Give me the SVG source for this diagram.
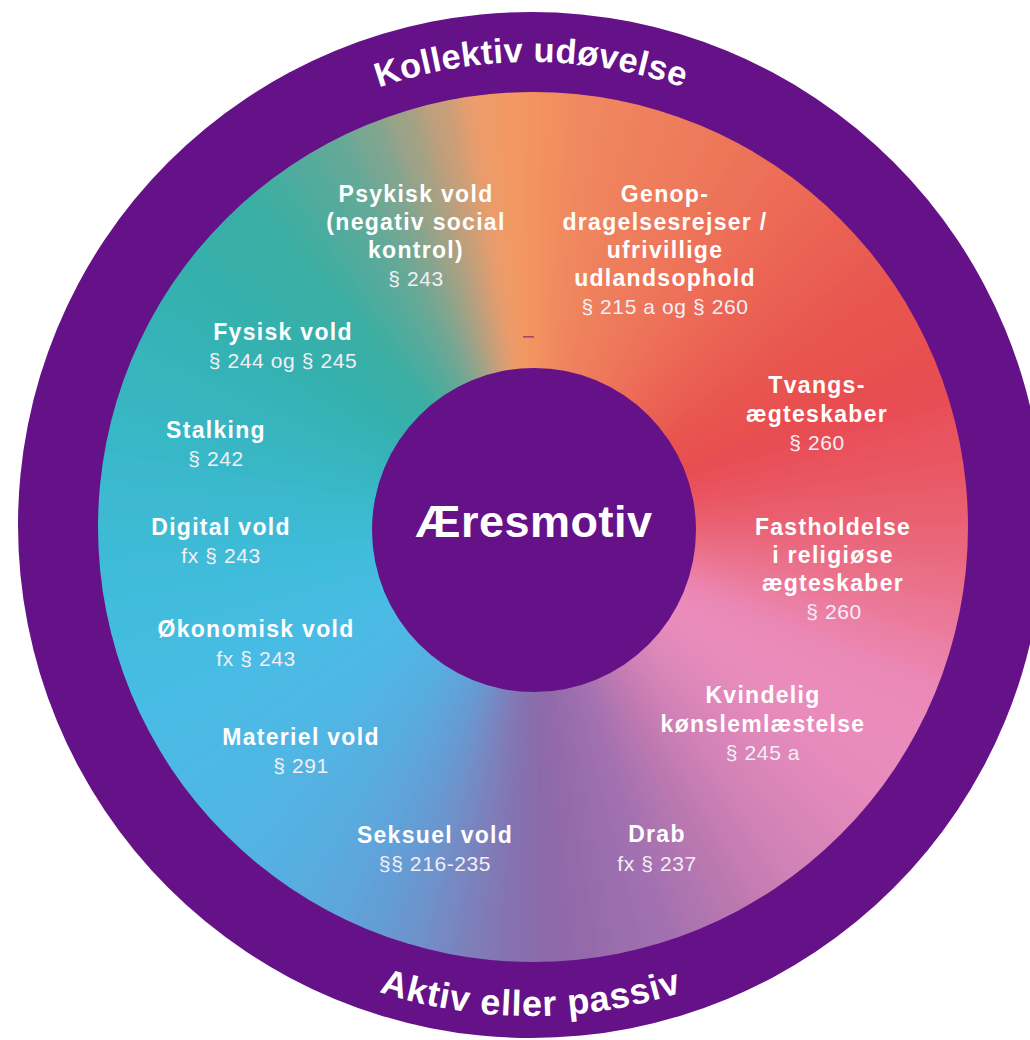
<svg xmlns="http://www.w3.org/2000/svg" width="1030" height="1040" viewBox="0 0 1030 1040">
<defs>
<style>
.t{font-family:"Liberation Sans",Arial,sans-serif;font-weight:bold;font-size:23px;fill:#ffffff;text-anchor:middle;letter-spacing:1.3px}
.s{font-family:"Liberation Sans",Arial,sans-serif;font-weight:normal;font-size:21px;fill:#f4eef6;text-anchor:middle;letter-spacing:0.6px}
.ring{font-family:"Liberation Sans",Arial,sans-serif;font-weight:bold;font-size:36px;fill:#ffffff;letter-spacing:0.8px}
.ringTop{font-size:34.5px;letter-spacing:0.4px}
.center{font-family:"Liberation Sans",Arial,sans-serif;font-weight:bold;font-size:45px;fill:#ffffff;text-anchor:middle;letter-spacing:0.5px}
.purple{fill:#651188}
</style>
<path id="w" d="M533 527 L533 7 A520 520 0 0 1 583.74 9.48 Z"/>
<clipPath id="innerClip"><circle cx="533" cy="527" r="435"/></clipPath>
<filter id="blur" filterUnits="userSpaceOnUse" x="0" y="0" width="1030" height="1040"><feGaussianBlur stdDeviation="10"/></filter>
<path id="arcTop" d="M68 525 A463 463 0 0 1 994 525"/>
<path id="arcBottom" d="M40 525 A491 491 0 0 0 1022 525"/>
</defs>

<g id="outer-ring">
<circle class="purple" cx="531" cy="525" r="513"/>
</g>

<g id="gradient-disc" clip-path="url(#innerClip)">
<g filter="url(#blur)">
<use href="#w" fill="#f28f60" transform="rotate(0 533 527)"/>
<use href="#w" fill="#f0885e" transform="rotate(5 533 527)"/>
<use href="#w" fill="#ef835d" transform="rotate(10 533 527)"/>
<use href="#w" fill="#ee7e5c" transform="rotate(15 533 527)"/>
<use href="#w" fill="#ee7a5b" transform="rotate(20 533 527)"/>
<use href="#w" fill="#ed7459" transform="rotate(25 533 527)"/>
<use href="#w" fill="#ed7058" transform="rotate(30 533 527)"/>
<use href="#w" fill="#ec6a57" transform="rotate(35 533 527)"/>
<use href="#w" fill="#eb6555" transform="rotate(40 533 527)"/>
<use href="#w" fill="#ea5f53" transform="rotate(45 533 527)"/>
<use href="#w" fill="#e85a51" transform="rotate(50 533 527)"/>
<use href="#w" fill="#e85550" transform="rotate(55 533 527)"/>
<use href="#w" fill="#e85250" transform="rotate(60 533 527)"/>
<use href="#w" fill="#e84e50" transform="rotate(65 533 527)"/>
<use href="#w" fill="#e84e54" transform="rotate(70 533 527)"/>
<use href="#w" fill="#e9535d" transform="rotate(75 533 527)"/>
<use href="#w" fill="#e95865" transform="rotate(80 533 527)"/>
<use href="#w" fill="#e95e6f" transform="rotate(85 533 527)"/>
<use href="#w" fill="#ea667a" transform="rotate(90 533 527)"/>
<use href="#w" fill="#ea6f88" transform="rotate(95 533 527)"/>
<use href="#w" fill="#eb7898" transform="rotate(100 533 527)"/>
<use href="#w" fill="#eb81a8" transform="rotate(105 533 527)"/>
<use href="#w" fill="#ea89b7" transform="rotate(110 533 527)"/>
<use href="#w" fill="#ea8bba" transform="rotate(115 533 527)"/>
<use href="#w" fill="#e98cbb" transform="rotate(120 533 527)"/>
<use href="#w" fill="#e68bbb" transform="rotate(125 533 527)"/>
<use href="#w" fill="#e088ba" transform="rotate(130 533 527)"/>
<use href="#w" fill="#d985b9" transform="rotate(135 533 527)"/>
<use href="#w" fill="#d182b6" transform="rotate(140 533 527)"/>
<use href="#w" fill="#c67db2" transform="rotate(145 533 527)"/>
<use href="#w" fill="#ba78b0" transform="rotate(150 533 527)"/>
<use href="#w" fill="#ad74b0" transform="rotate(155 533 527)"/>
<use href="#w" fill="#a170b0" transform="rotate(160 533 527)"/>
<use href="#w" fill="#9b6eae" transform="rotate(165 533 527)"/>
<use href="#w" fill="#946bab" transform="rotate(170 533 527)"/>
<use href="#w" fill="#8d69a9" transform="rotate(175 533 527)"/>
<use href="#w" fill="#866fae" transform="rotate(180 533 527)"/>
<use href="#w" fill="#7f7cb8" transform="rotate(185 533 527)"/>
<use href="#w" fill="#7689c3" transform="rotate(190 533 527)"/>
<use href="#w" fill="#6a95ce" transform="rotate(195 533 527)"/>
<use href="#w" fill="#629fd7" transform="rotate(200 533 527)"/>
<use href="#w" fill="#5da6dc" transform="rotate(205 533 527)"/>
<use href="#w" fill="#58acdf" transform="rotate(210 533 527)"/>
<use href="#w" fill="#55b0e1" transform="rotate(215 533 527)"/>
<use href="#w" fill="#52b4e3" transform="rotate(220 533 527)"/>
<use href="#w" fill="#4fb7e4" transform="rotate(225 533 527)"/>
<use href="#w" fill="#4db8e4" transform="rotate(230 533 527)"/>
<use href="#w" fill="#4bbae4" transform="rotate(235 533 527)"/>
<use href="#w" fill="#49bbe4" transform="rotate(240 533 527)"/>
<use href="#w" fill="#47bce3" transform="rotate(245 533 527)"/>
<use href="#w" fill="#45bce0" transform="rotate(250 533 527)"/>
<use href="#w" fill="#42bcdd" transform="rotate(255 533 527)"/>
<use href="#w" fill="#40bcda" transform="rotate(260 533 527)"/>
<use href="#w" fill="#3ebbd6" transform="rotate(265 533 527)"/>
<use href="#w" fill="#3cbad1" transform="rotate(270 533 527)"/>
<use href="#w" fill="#3bb8cc" transform="rotate(275 533 527)"/>
<use href="#w" fill="#39b7c7" transform="rotate(280 533 527)"/>
<use href="#w" fill="#38b5c1" transform="rotate(285 533 527)"/>
<use href="#w" fill="#37b4bc" transform="rotate(290 533 527)"/>
<use href="#w" fill="#36b2b6" transform="rotate(295 533 527)"/>
<use href="#w" fill="#35b1b1" transform="rotate(300 533 527)"/>
<use href="#w" fill="#36b0ac" transform="rotate(305 533 527)"/>
<use href="#w" fill="#38afa8" transform="rotate(310 533 527)"/>
<use href="#w" fill="#39aea4" transform="rotate(315 533 527)"/>
<use href="#w" fill="#42ada0" transform="rotate(320 533 527)"/>
<use href="#w" fill="#52ab9c" transform="rotate(325 533 527)"/>
<use href="#w" fill="#62a998" transform="rotate(330 533 527)"/>
<use href="#w" fill="#7ca691" transform="rotate(335 533 527)"/>
<use href="#w" fill="#9fa286" transform="rotate(340 533 527)"/>
<use href="#w" fill="#c59f79" transform="rotate(345 533 527)"/>
<use href="#w" fill="#ed9c6b" transform="rotate(350 533 527)"/>
<use href="#w" fill="#f49761" transform="rotate(355 533 527)"/>
</g>
<rect x="523" y="336" width="11" height="1.6" fill="#a04a70"/>
</g>

<g id="center-node">
<circle class="purple" cx="534" cy="530" r="162"/>
<text class="center" x="534" y="537">Æresmotiv</text>
</g>

<g id="ring-top">
<text class="ring ringTop"><textPath href="#arcTop" startOffset="50%" text-anchor="middle">Kollektiv udøvelse</textPath></text>
</g>
<g id="ring-bottom">
<text class="ring"><textPath href="#arcBottom" startOffset="50%" text-anchor="middle">Aktiv eller passiv</textPath></text>
</g>

<g id="connectors"></g>

<g id="node-psykisk">
<text class="t" x="416" y="202">Psykisk vold</text>
<text class="t" x="416" y="230">(negativ social</text>
<text class="t" x="416" y="258">kontrol)</text>
<text class="s" x="416" y="286">§ 243</text>
</g>
<g id="node-genop">
<text class="t" x="665" y="202">Genop-</text>
<text class="t" x="665" y="230">dragelsesrejser /</text>
<text class="t" x="665" y="258">ufrivillige</text>
<text class="t" x="665" y="286">udlandsophold</text>
<text class="s" x="665" y="314">§ 215 a og § 260</text>
</g>
<g id="node-tvangs">
<text class="t" x="817" y="393">Tvangs-</text>
<text class="t" x="817" y="421.5">ægteskaber</text>
<text class="s" x="817" y="449.5">§ 260</text>
</g>
<g id="node-fastholdelse">
<text class="t" x="833" y="535">Fastholdelse</text>
<text class="t" x="833" y="563">i religiøse</text>
<text class="t" x="833" y="591">ægteskaber</text>
<text class="s" x="834" y="619">§ 260</text>
</g>
<g id="node-kvindelig">
<text class="t" x="763" y="703">Kvindelig</text>
<text class="t" x="763" y="731.5">kønslemlæstelse</text>
<text class="s" x="763" y="760">§ 245 a</text>
</g>
<g id="node-drab">
<text class="t" x="657" y="842">Drab</text>
<text class="s" x="657" y="870.5">fx § 237</text>
</g>
<g id="node-seksuel">
<text class="t" x="435" y="843">Seksuel vold</text>
<text class="s" x="435" y="871">§§ 216-235</text>
</g>
<g id="node-materiel">
<text class="t" x="301" y="745">Materiel vold</text>
<text class="s" x="301" y="773">§ 291</text>
</g>
<g id="node-okonomisk">
<text class="t" x="256" y="637">Økonomisk vold</text>
<text class="s" x="256" y="665.5">fx § 243</text>
</g>
<g id="node-digital">
<text class="t" x="221" y="535">Digital vold</text>
<text class="s" x="221" y="563">fx § 243</text>
</g>
<g id="node-stalking">
<text class="t" x="216" y="437.5">Stalking</text>
<text class="s" x="216" y="466">§ 242</text>
</g>
<g id="node-fysisk">
<text class="t" x="283" y="340">Fysisk vold</text>
<text class="s" x="283" y="368">§ 244 og § 245</text>
</g>
</svg>
